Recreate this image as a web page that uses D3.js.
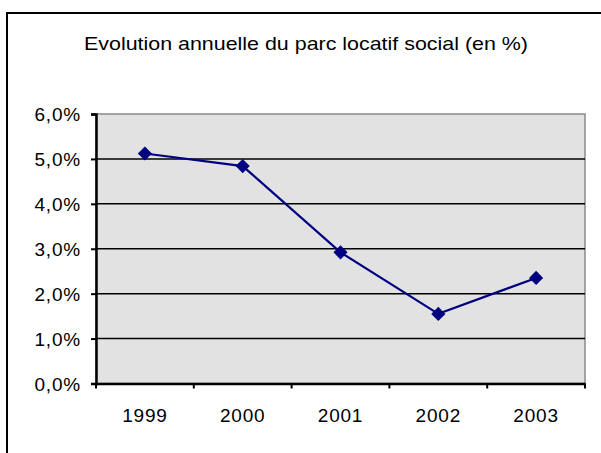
<!DOCTYPE html>
<html>
<head>
<meta charset="utf-8">
<script src="https://cdn.jsdelivr.net/npm/d3@7"></script>
<style>
  body { margin: 0; background: #fff; }
  text { font-family: "Liberation Sans", Arial, sans-serif; fill: #000; }
</style>
</head>
<body>
<svg id="chart" width="601" height="453"></svg>
<script>
const years = ["1999", "2000", "2001", "2002", "2003"];
const rates = [0.0512, 0.0484, 0.0292, 0.0155, 0.0235];
const yTicks = [0, 0.01, 0.02, 0.03, 0.04, 0.05, 0.06];
const title = "Evolution annuelle du parc locatif social (en %)";

const plot = {left: 96, right: 585, top: 114, bottom: 383.5};

const fr = d3.formatLocale({decimal: ",", thousands: " ", grouping: [3], currency: ["", " €"]});
const pct = fr.format(".1%");

const svg = d3.select("#chart");

// outer frame, cut off on the right and bottom
svg.append("rect")
    .attr("x", 7).attr("y", 13)
    .attr("width", 700).attr("height", 600)
    .attr("fill", "#fff")
    .attr("stroke", "#000")
    .attr("stroke-width", 2);

svg.append("text")
    .attr("x", 306).attr("y", 50)
    .attr("text-anchor", "middle")
    .attr("font-size", 18.5)
    .attr("textLength", 444)
    .attr("lengthAdjust", "spacingAndGlyphs")
    .text(title);

const x = d3.scaleBand().domain(years).range([plot.left, plot.right]);
const y = d3.scaleLinear().domain([0, 0.06]).range([plot.bottom, plot.top]);

// plot area
svg.append("rect")
    .attr("x", plot.left).attr("y", plot.top)
    .attr("width", plot.right - plot.left)
    .attr("height", plot.bottom - plot.top)
    .attr("fill", "#e2e2e2")
    .attr("stroke", "#8a8a8a")
    .attr("stroke-width", 1.5);

// gridlines
svg.append("g")
    .selectAll("line")
    .data(yTicks.filter(t => t > 0 && t < 0.06))
    .join("line")
        .attr("x1", plot.left).attr("x2", plot.right)
        .attr("y1", d => y(d)).attr("y2", d => y(d))
        .attr("stroke", "#000")
        .attr("stroke-width", 1.5);

// y axis
const yAxis = svg.append("g")
    .attr("transform", `translate(${plot.left},0)`)
    .call(d3.axisLeft(y).tickValues(yTicks).tickFormat(pct).tickSize(5).tickPadding(10));
yAxis.select(".domain").attr("stroke", "#000").attr("stroke-width", 2.5);
yAxis.selectAll(".tick line").attr("stroke", "#000").attr("stroke-width", 2);
yAxis.selectAll("text")
    .attr("font-size", 19)
    .attr("font-family", null)
    .attr("letter-spacing", "0.8px")
    .attr("dy", "0.36em");

// x axis: labels centred in each band, ticks on band edges
const xAxis = svg.append("g")
    .attr("transform", `translate(0,${plot.bottom})`)
    .call(d3.axisBottom(x).tickSize(0).tickPadding(38));
xAxis.select(".domain").attr("stroke", "#000").attr("stroke-width", 2.5);
xAxis.selectAll("text")
    .attr("font-size", 19)
    .attr("font-family", null)
    .attr("letter-spacing", "0.8px")
    .attr("dy", "0");

const edges = years.map(d => x(d)).concat([x(years[years.length - 1]) + x.bandwidth()]);
xAxis.selectAll(".edge")
    .data(edges)
    .join("line")
        .attr("class", "edge")
        .attr("x1", d => d).attr("x2", d => d)
        .attr("y1", 0).attr("y2", 5)
        .attr("stroke", "#000")
        .attr("stroke-width", 2);

// series
const cx = d => x(d) + x.bandwidth() / 2;
const pts = years.map((d, i) => [cx(d), y(rates[i])]);

svg.append("path")
    .datum(pts)
    .attr("d", d3.line())
    .attr("fill", "none")
    .attr("stroke", "#000080")
    .attr("stroke-width", 2.2);

svg.append("g")
    .selectAll("path")
    .data(pts)
    .join("path")
        .attr("transform", d => `translate(${d[0]},${d[1]}) rotate(45)`)
        .attr("d", d3.symbol(d3.symbolSquare, 100))
        .attr("fill", "#000080");
</script>
</body>
</html>
